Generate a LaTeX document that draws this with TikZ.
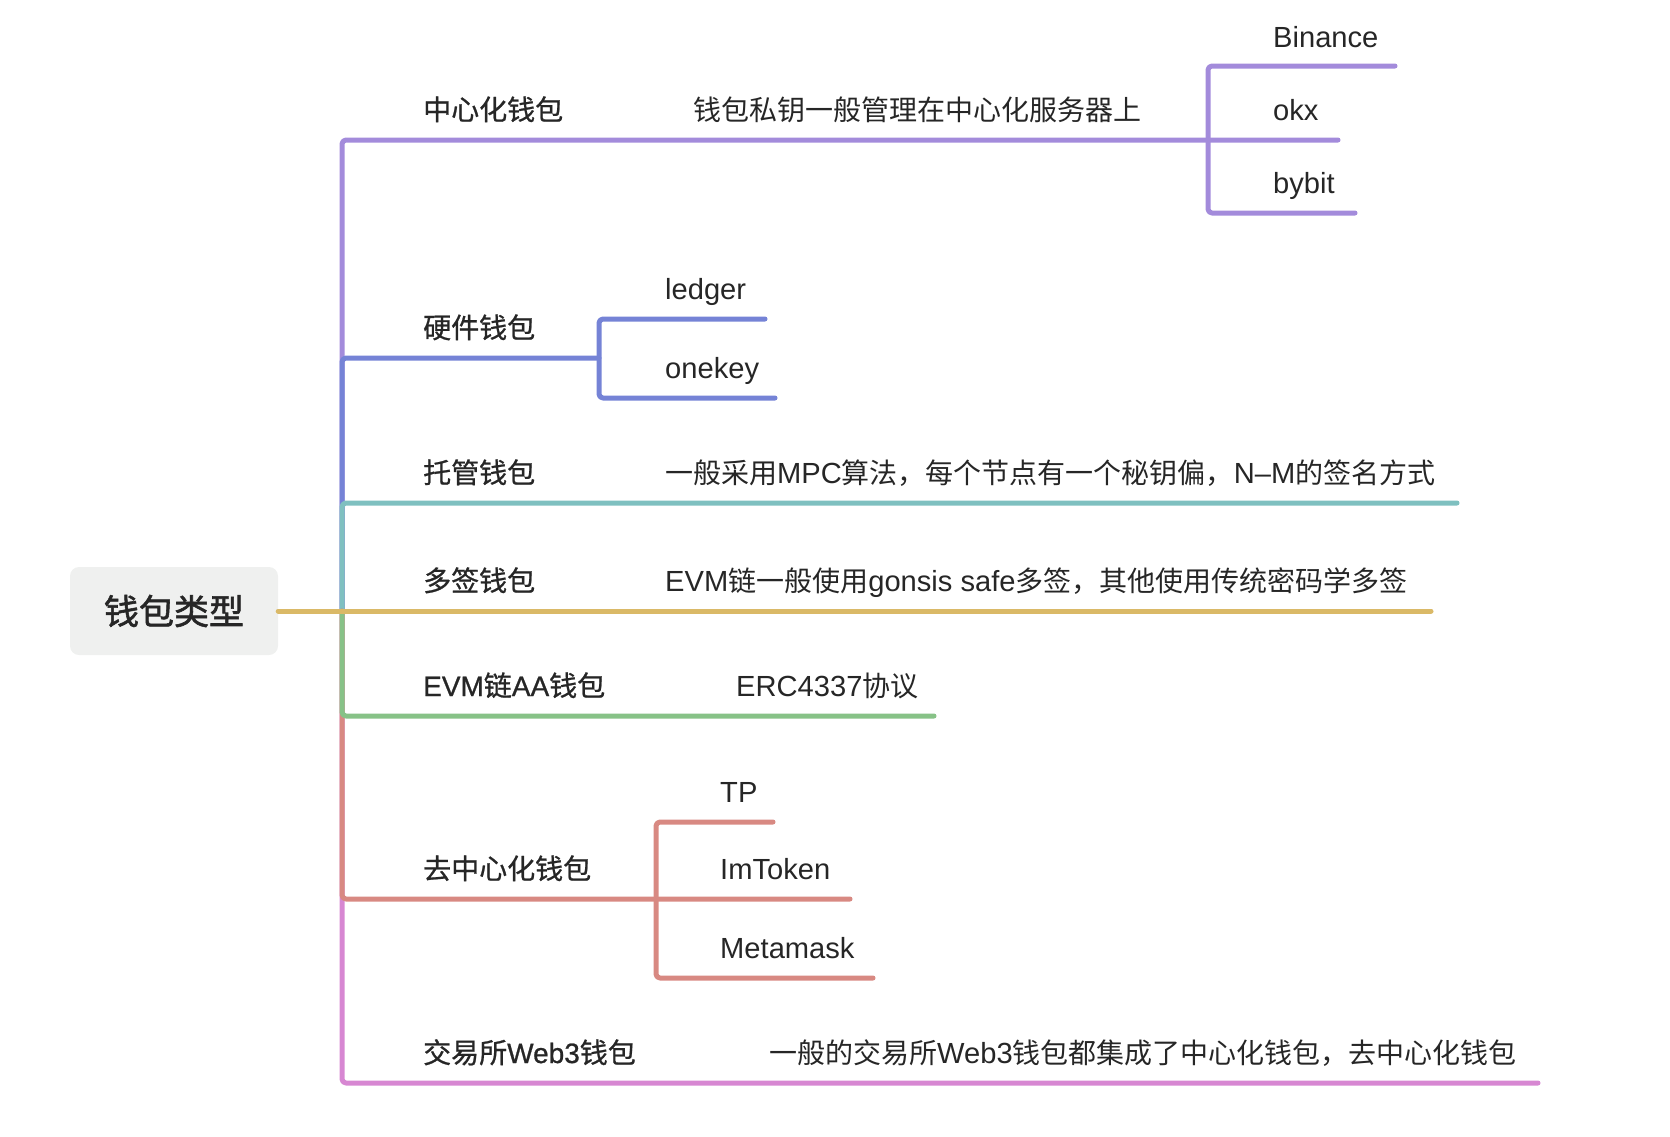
\documentclass[tikz,border=0pt]{standalone}
\usepackage{fontspec}
\setmainfont{Noto Sans CJK SC}
\newfontfamily\labelfont{Noto Sans CJK SC}[FakeBold=0.8]
\newfontfamily\rootfont{Noto Sans CJK SC}[FakeBold=1.6]
\newfontfamily\latfont{Liberation Sans}[Scale=1.04]
\newfontfamily\latbfont{Liberation Sans}[FakeBold=0.8]
\newcommand\lat[1]{{\latfont #1}}
\newcommand\latb[1]{{\latbfont #1}}
\definecolor{cpurple}{RGB}{163,139,219}
\definecolor{cblue}{RGB}{117,131,214}
\definecolor{cteal}{RGB}{127,192,192}
\definecolor{cyellow}{RGB}{218,185,103}
\definecolor{cgreen}{RGB}{135,194,135}
\definecolor{cred}{RGB}{216,137,130}
\definecolor{cpink}{RGB}{215,135,210}
\definecolor{rootfill}{RGB}{239,240,239}
\definecolor{txt}{RGB}{38,38,38}
\tikzset{
  br/.style={line width=5pt, line cap=round, line join=round, rounded corners=4pt},
  lbl/.style={anchor=base west, inner sep=0pt, text=txt, font=\labelfont\fontsize{28}{32}\selectfont},
  desc/.style={anchor=base west, inner sep=0pt, text=txt, font=\fontsize{28}{32}\selectfont},
  sub/.style={anchor=base west, inner sep=0pt, text=txt, font=\latfont\fontsize{28}{32}\selectfont},
  rootbox/.style={fill=rootfill, rounded corners=9pt, minimum width=208pt, minimum height=88pt, inner sep=0pt, text=txt, font=\rootfont\fontsize{35}{40}\selectfont}
}
\begin{document}
\begin{tikzpicture}[x=1pt,y=-1pt]
\useasboundingbox (0,0) rectangle (1670,1136);
% root
\node[rootbox] (root) at (174,611) {钱包类型};
\coordinate (J) at (342,611);
% end points
\coordinate (p1) at (1208,140);  \coordinate (p1e) at (1338,140);
\coordinate (pbin) at (1395,66); \coordinate (pbyb) at (1355,213);
\coordinate (b1) at (599,358);
\coordinate (bled) at (765,319); \coordinate (bone) at (775,398);
\coordinate (t1) at (1457,503);
\coordinate (y1) at (1431,611);
\coordinate (g1) at (934,716);
\coordinate (r1) at (656,899); \coordinate (r1e) at (850,899);
\coordinate (rtp) at (773,822); \coordinate (rmm) at (873,978);
\coordinate (k1) at (1538,1083);
% branches (outer first)
\draw[br,cpurple] (J) |- (p1) -- (p1e);
\draw[br,cpurple] (pbin) -| (p1) |- (pbyb);
\draw[br,cblue] (J) |- (b1);
\draw[br,cblue] (bled) -| (b1) |- (bone);
\draw[br,cteal] (J) |- (t1);
\draw[br,cpink] (J) |- (k1);
\draw[br,cred] (J) |- (r1) -- (r1e);
\draw[br,cred] (rtp) -| (r1) |- (rmm);
\draw[br,cgreen] (J) |- (g1);
\draw[br,cyellow] (root.east) -- (J) -- (y1);
% labels
\node[lbl] (l1) at (423,120) {中心化钱包};
\node[desc] (d1) at (693,120) {钱包私钥一般管理在中心化服务器上};
\node[sub] (s11) at (1273,47) {Binance};
\node[sub] (s12) at (1273,120) {okx};
\node[sub] (s13) at (1273,193) {bybit};
\node[lbl] (l2) at (423,338) {硬件钱包};
\node[sub] (s21) at (665,299) {ledger};
\node[sub] (s22) at (665,378) {onekey};
\node[lbl] (l3) at (423,483) {托管钱包};
\node[desc] (d3) at (665,483) {一般采用\lat{MPC}算法，每个节点有一个秘钥偏，\lat{N–M}的签名方式};
\node[lbl] (l4) at (423,591) {多签钱包};
\node[desc] (d4) at (665,591) {\lat{EVM}链一般使用\lat{gonsis safe}多签，其他使用传统密码学多签};
\node[lbl] (l5) at (423,696) {\latb{EVM}链\latb{AA}钱包};
\node[desc] (d5) at (736,696) {\lat{ERC4337}协议};
\node[lbl] (l6) at (423,879) {去中心化钱包};
\node[sub] (s61) at (720,802) {TP};
\node[sub] (s62) at (720,879) {ImToken};
\node[sub] (s63) at (720,958) {Metamask};
\node[lbl] (l7) at (423,1063) {交易所\latb{Web3}钱包};
\node[desc] (d7) at (769,1063) {一般的交易所\lat{Web3}钱包都集成了中心化钱包，去中心化钱包};
\end{tikzpicture}
\end{document}
